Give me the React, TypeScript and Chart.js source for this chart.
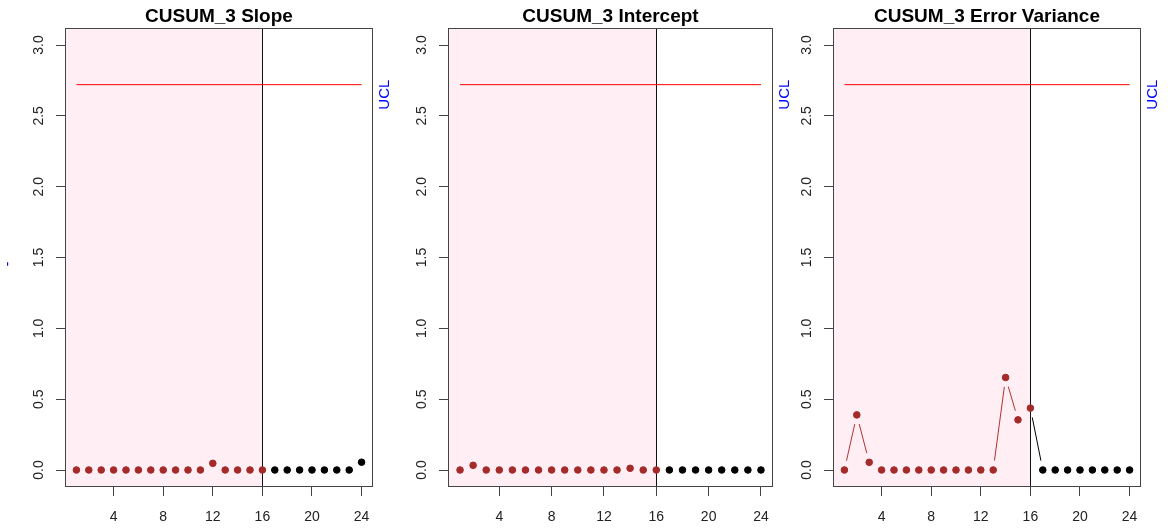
import React, { useEffect, useRef } from "react";
import { Chart, registerables } from "chart.js";

Chart.register(...registerables);

// ---- data ----
const observations = [1, 2, 3, 4, 5, 6, 7, 8, 9, 10, 11, 12, 13, 14, 15, 16, 17, 18, 19, 20, 21, 22, 23, 24];
const phaseOneEnd = 16;
const uclValue = 2.72;
const xTickValues = [4, 8, 12, 16, 20, 24];
const xTickLabels = ["4", "8", "12", "16", "20", "24"];
const yTickValues = [0, 0.5, 1, 1.5, 2, 2.5, 3];
const yTickLabels = ["0.0", "0.5", "1.0", "1.5", "2.0", "2.5", "3.0"];

const slopeStats = [0, 0, 0, 0, 0, 0, 0, 0, 0, 0, 0, 0.047, 0, 0, 0, 0, 0, 0, 0, 0, 0, 0, 0, 0.055];
const interceptStats = [0, 0.033, 0, 0, 0, 0, 0, 0, 0, 0, 0, 0, 0, 0.012, 0, 0, 0, 0, 0, 0, 0, 0, 0, 0];
const errorVarianceStats = [0, 0.389, 0.054, 0, 0, 0, 0, 0, 0, 0, 0, 0, 0, 0.653, 0.354, 0.437, 0, 0, 0, 0, 0, 0, 0, 0];

const panelTitles = ["CUSUM_3 Slope", "CUSUM_3 Intercept", "CUSUM_3 Error Variance"];
const panelSeries = [slopeStats, interceptStats, errorVarianceStats];

// ---- layout / style ----
const PAGE_W = 1168;
const PAGE_H = 531;
const BOX_TOP = 28;
const BOX_BOTTOM = 487;
const LEFT_GUTTER = 65;
const RIGHT_GUTTER = 28;
const panelBoxes = [
  { left: 65, right: 373 },
  { left: 448, right: 773 },
  { left: 833, right: 1141 },
];
const X_MIN = 0.08;
const X_MAX = 24.92;
const Y_MIN = -0.12;
const Y_MAX = 3.12;

const FONT = '"Liberation Sans", Arial, Helvetica, sans-serif';
const PHASE1_COLOR = "#A52A2A";
const PHASE2_COLOR = "#000000";
const SHADE = "#FFEEF3";
const LINE_GAP = 9.5;

const cusumDecor = {
  id: "cusumDecor",
  beforeDatasetsDraw(chart: any, _args: any, opts: any) {
    const { ctx, chartArea: a } = chart;
    const xs = chart.scales.x;
    const ys = chart.scales.y;
    const xp = xs.getPixelForValue(phaseOneEnd);
    ctx.save();
    // shaded phase I region
    ctx.fillStyle = SHADE;
    ctx.fillRect(a.left, a.top, xp - a.left, a.bottom - a.top);
    // phase boundary
    ctx.strokeStyle = "#111";
    ctx.lineWidth = 1;
    ctx.beginPath();
    ctx.moveTo(Math.round(xp) + 0.5, a.top);
    ctx.lineTo(Math.round(xp) + 0.5, a.bottom);
    ctx.stroke();
    // connecting segments with gaps around each point
    const vals: number[] = opts.values;
    for (let i = 0; i < observations.length - 1; i++) {
      const x1 = xs.getPixelForValue(observations[i]);
      const y1 = ys.getPixelForValue(vals[i]);
      const x2 = xs.getPixelForValue(observations[i + 1]);
      const y2 = ys.getPixelForValue(vals[i + 1]);
      const dx = x2 - x1;
      const dy = y2 - y1;
      const len = Math.hypot(dx, dy);
      if (len <= 2 * LINE_GAP) continue;
      const ux = dx / len;
      const uy = dy / len;
      ctx.strokeStyle = observations[i + 1] <= phaseOneEnd ? "#B03434" : PHASE2_COLOR;
      ctx.lineWidth = 1;
      ctx.beginPath();
      ctx.moveTo(x1 + ux * LINE_GAP, y1 + uy * LINE_GAP);
      ctx.lineTo(x2 - ux * LINE_GAP, y2 - uy * LINE_GAP);
      ctx.stroke();
    }
    ctx.restore();
  },
  afterDraw(chart: any, _args: any, opts: any) {
    const { ctx, chartArea: a } = chart;
    const xs = chart.scales.x;
    const ys = chart.scales.y;
    ctx.save();
    // plot box
    ctx.strokeStyle = "#444";
    ctx.lineWidth = 1;
    ctx.strokeRect(a.left + 0.5, a.top + 0.5, a.right - a.left - 1, a.bottom - a.top - 1);

    // title
    ctx.fillStyle = "#000";
    ctx.font = `bold 19px ${FONT}`;
    ctx.textAlign = "center";
    ctx.textBaseline = "alphabetic";
    ctx.fillText(opts.title, (a.left + a.right) / 2, 22);

    // x tick labels
    ctx.font = `14px ${FONT}`;
    ctx.fillStyle = "#222";
    xTickValues.forEach((v, i) => {
      ctx.fillText(xTickLabels[i], xs.getPixelForValue(v), 521);
    });

    // y tick labels, rotated
    yTickValues.forEach((v, i) => {
      ctx.save();
      ctx.translate(a.left - 22, ys.getPixelForValue(v));
      ctx.rotate(-Math.PI / 2);
      ctx.textAlign = "center";
      ctx.textBaseline = "alphabetic";
      ctx.fillText(yTickLabels[i], 0, 0);
      ctx.restore();
    });

    // UCL label
    ctx.save();
    ctx.fillStyle = "#0000FF";
    ctx.font = `15px ${FONT}`;
    ctx.translate(a.right + 16, ys.getPixelForValue(uclValue) + 10);
    ctx.rotate(-Math.PI / 2);
    ctx.textAlign = "center";
    ctx.textBaseline = "alphabetic";
    ctx.fillText("UCL", 0, 0);
    ctx.restore();

    if (opts.sideMark) {
      ctx.save();
      ctx.fillStyle = "#0000FF";
      ctx.font = `14px ${FONT}`;
      ctx.translate(a.left - 57, 264);
      ctx.rotate(-Math.PI / 2);
      ctx.textAlign = "center";
      ctx.textBaseline = "middle";
      ctx.fillText("-", 0, 0);
      ctx.restore();
    }
    ctx.restore();
  },
};

function Panel({ index }: { index: number }) {
  const ref = useRef<HTMLCanvasElement | null>(null);
  const box = panelBoxes[index];
  const canvasLeft = box.left - LEFT_GUTTER;
  const canvasWidth = box.right - box.left + LEFT_GUTTER + RIGHT_GUTTER;

  useEffect(() => {
    if (!ref.current) return;
    const values = panelSeries[index];
    const phase1 = observations
      .map((x, i) => ({ x, y: values[i] }))
      .filter((p) => p.x <= phaseOneEnd);
    const phase2 = observations
      .map((x, i) => ({ x, y: values[i] }))
      .filter((p) => p.x > phaseOneEnd);
    const uclLine = [
      { x: observations[0], y: uclValue },
      { x: observations[observations.length - 1], y: uclValue },
    ];

    const chart = new Chart(ref.current, {
      type: "scatter",
      data: {
        datasets: [
          {
            data: uclLine,
            showLine: true,
            borderColor: "#FF0000",
            borderWidth: 1,
            pointRadius: 0,
            order: 3,
          },
          {
            data: phase1,
            showLine: false,
            backgroundColor: PHASE1_COLOR,
            borderColor: PHASE1_COLOR,
            borderWidth: 1,
            pointRadius: 3.3,
            order: 1,
          },
          {
            data: phase2,
            showLine: false,
            backgroundColor: PHASE2_COLOR,
            borderColor: PHASE2_COLOR,
            borderWidth: 1,
            pointRadius: 3.3,
            order: 2,
          },
        ],
      },
      options: {
        animation: false,
        responsive: false,
        devicePixelRatio: 1,
        layout: { padding: { top: BOX_TOP, right: RIGHT_GUTTER, left: 0, bottom: 0 } },
        plugins: {
          legend: { display: false },
          title: { display: false },
          tooltip: { enabled: false },
          cusumDecor: { title: panelTitles[index], values, sideMark: index === 0 },
        } as any,
        scales: {
          x: {
            type: "linear",
            min: X_MIN,
            max: X_MAX,
            afterBuildTicks: (s: any) => {
              s.ticks = xTickValues.map((v) => ({ value: v }));
            },
            afterFit: (s: any) => {
              s.height = PAGE_H - BOX_BOTTOM;
            },
            ticks: { display: false },
            border: { display: false },
            grid: { drawOnChartArea: false, drawTicks: true, tickLength: 9, color: "#444", lineWidth: 1 },
          },
          y: {
            type: "linear",
            min: Y_MIN,
            max: Y_MAX,
            afterBuildTicks: (s: any) => {
              s.ticks = yTickValues.map((v) => ({ value: v }));
            },
            afterFit: (s: any) => {
              s.width = LEFT_GUTTER;
            },
            ticks: { display: false },
            border: { display: false },
            grid: { drawOnChartArea: false, drawTicks: true, tickLength: 9, color: "#444", lineWidth: 1 },
          },
        },
      },
      plugins: [cusumDecor],
    });
    return () => chart.destroy();
  }, [index]);

  return (
    <canvas
      ref={ref}
      width={canvasWidth}
      height={PAGE_H}
      style={{ position: "absolute", left: canvasLeft, top: 0, width: canvasWidth, height: PAGE_H }}
    />
  );
}

export default function App() {
  return (
    <div
      style={{
        position: "fixed",
        left: 0,
        top: 0,
        width: PAGE_W,
        height: PAGE_H,
        background: "#fff",
        overflow: "hidden",
      }}
    >
      {panelTitles.map((_, i) => (
        <Panel key={i} index={i} />
      ))}
    </div>
  );
}
